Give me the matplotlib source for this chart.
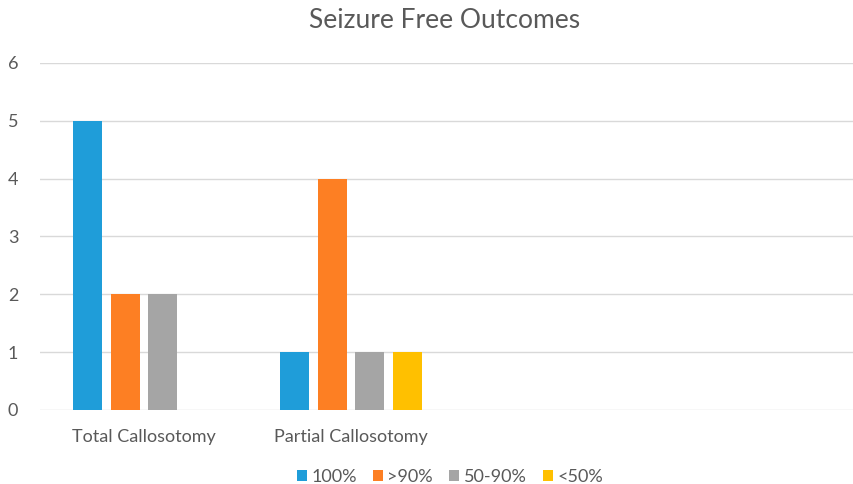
import numpy as np
import matplotlib.pyplot as plt

categories = ['Total Callosotomy', 'Partial Callosotomy', '', '']
series = ['100%', '>90%', '50-90%', '<50%']
values = {
    '100%': [5, 1, 0, 0],
    '>90%': [2, 4, 0, 0],
    '50-90%': [2, 1, 0, 0],
    '<50%': [0, 1, 0, 0],
}
colors = ['#1F9DD9', '#FD7F23', '#A5A5A5', '#FFC000']

plt.rcParams['font.family'] = ['Lato', 'DejaVu Sans']

fig = plt.figure(figsize=(8.54, 4.84), dpi=100)
ax = fig.add_axes([0.0474, 0.1529, 0.9696, 0.717])

x = np.arange(len(categories))
width = 0.14
step = 0.181
for i, s in enumerate(series):
    ax.bar(x + (i - 1.5) * step, values[s], width, color=colors[i], label=s, zorder=3)

ax.set_xlim(-0.5, len(categories) - 0.5)
ax.set_ylim(0, 6)
ax.set_yticks(range(7))
ax.grid(axis='y', color='#D9D9D9', linewidth=1, zorder=0)
for sp in ax.spines.values():
    sp.set_visible(False)
ax.tick_params(length=0, labelsize=13, colors='#595959')
ax.tick_params(axis='y', pad=16)
ax.tick_params(axis='x', pad=14)
ax.set_xticks(x)
ax.set_xticklabels(categories)

fig.text(445 / 854, 1 - 20 / 484, 'Seizure Free Outcomes', ha='center', va='center',
         fontsize=19, color='#595959')
fig.legend(loc='center', bbox_to_anchor=(450 / 854, 1 - 477 / 484), ncol=4, frameon=False,
           fontsize=13, labelcolor='#595959', handlelength=0.55, handleheight=0.55,
           handletextpad=0.25, columnspacing=0.9)

fig.savefig('out.png', dpi=100)
